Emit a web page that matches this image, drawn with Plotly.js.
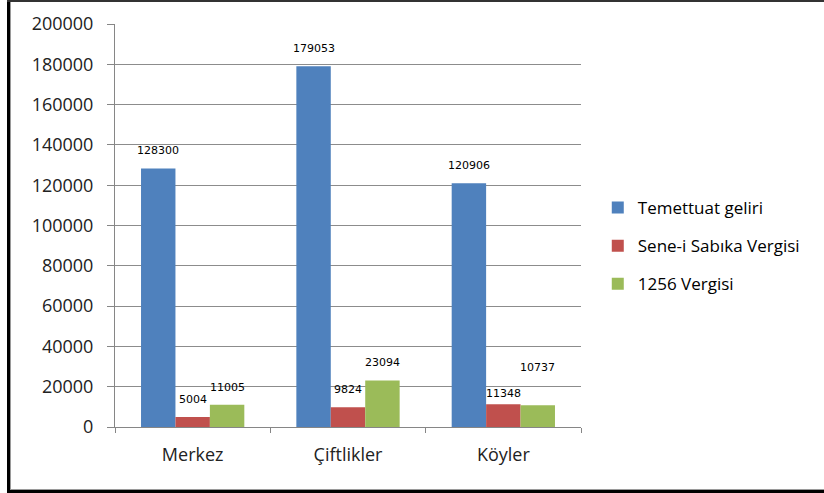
<!DOCTYPE html>
<html>
<head>
<meta charset="utf-8">
<script src="https://cdn.plot.ly/plotly-3.0.1.min.js"></script>
<style>
  html, body { margin: 0; padding: 0; background: #fff; }
  #wrap { position: relative; width: 824px; height: 493px; overflow: hidden; }
  #chart { position: absolute; left: 0; top: 0; width: 824px; height: 493px; }
  .frame { position: absolute; pointer-events: none; }
</style>
</head>
<body>
<div id="wrap">
  <div id="chart"></div>
  <div class="frame" style="left:7px; top:0; width:3px; height:493px; background:#000;"></div>
  <div class="frame" style="left:10px; top:2px; width:1px; height:487px; background:#9a9a9a;"></div>
  <div class="frame" style="left:7px; top:0; width:817px; height:2px; background:#333;"></div>
  <div class="frame" style="left:7px; top:490px; width:817px; height:3px; background:#000;"></div>
  <div class="frame" style="left:10px; top:489px; width:814px; height:1px; background:#9a9a9a;"></div>
</div>
<script>
const categories = ['Merkez', 'Çiftlikler', 'Köyler'];
const seriesNames = ['Temettuat geliri', 'Sene-i Sabıka Vergisi', '1256 Vergisi'];
const temettuat = [128300, 179053, 120906];
const seneiSabika = [5004, 9824, 11348];
const vergi1256 = [11005, 23094, 10737];
const yTicks = [0, 20000, 40000, 60000, 80000, 100000, 120000, 140000, 160000, 180000, 200000];

const colors = ['#4F81BD', '#C0504D', '#9BBB59'];
const allSeries = [temettuat, seneiSabika, vergi1256];
// per-label vertical pixel shift (style only)
const labelShift = [[9, 9, 9], [9, 9, 2], [9, 9, 29]];

const traces = allSeries.map((vals, i) => ({
  type: 'bar',
  name: seriesNames[i],
  x: categories,
  y: vals,
  marker: { color: colors[i] },
  legendgroup: 'g' + i,
  hoverinfo: 'none'
}));

const nS = allSeries.length;
const annotations = [];
allSeries.forEach((vals, i) => {
  vals.forEach((v, j) => {
    annotations.push({
      x: categories[j], y: v, xref: 'x', yref: 'y',
      text: String(v), showarrow: false,
      xanchor: 'center', yanchor: 'bottom',
      xshift: (i - (nS - 1) / 2) * 34.5,
      yshift: labelShift[i][j],
      font: { family: 'DejaVu Sans', size: 11, color: '#000' }
    });
  });
});

const layout = {
  width: 824, height: 493,
  margin: { l: 115, r: 243, t: 24, b: 66 },
  paper_bgcolor: '#fff', plot_bgcolor: '#fff',
  barmode: 'group', bargap: 0.335, bargroupgap: 0,
  showlegend: true,
  legend: {
    x: 1.036, xanchor: 'left', y: 0.449, yanchor: 'middle',
    traceorder: 'grouped', tracegroupgap: 13,
    font: { family: 'Open Sans', size: 17, color: '#000' },
    bgcolor: 'rgba(0,0,0,0)', itemclick: false
  },
  xaxis: {
    type: 'category',
    showline: true, linecolor: '#868686', linewidth: 1,
    ticks: 'outside', tickson: 'boundaries', ticklen: 5, tickcolor: '#868686',
    ticklabelstandoff: 11,
    tickfont: { family: 'Open Sans', size: 18, color: '#222' },
    showgrid: false, zeroline: false
  },
  yaxis: {
    range: [0, 200000], tickvals: yTicks, ticktext: yTicks.map(String),
    showline: true, linecolor: '#868686', linewidth: 1,
    ticks: 'outside', ticklen: 7, tickcolor: '#868686',
    ticklabelstandoff: 10,
    gridcolor: '#8c8c8c', gridwidth: 1,
    zeroline: false,
    tickfont: { family: 'Open Sans', size: 18, color: '#222' }
  },
  annotations: annotations
};

Plotly.newPlot('chart', traces, layout, { staticPlot: true, displayModeBar: false });
</script>
</body>
</html>
